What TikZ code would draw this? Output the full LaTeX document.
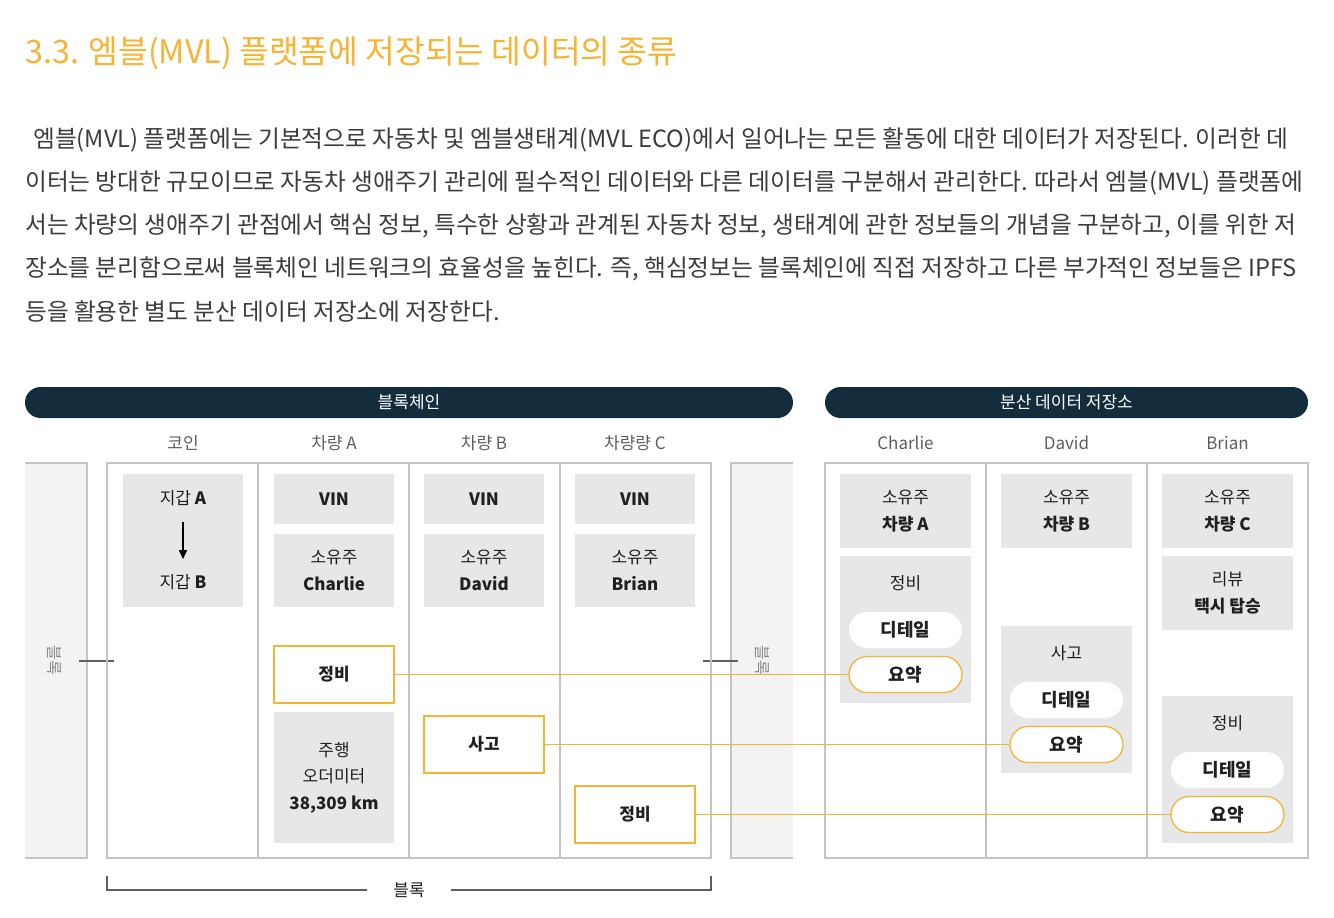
\documentclass[tikz,border=0pt]{standalone}
\usepackage{fontspec}
\setmainfont{Noto Sans CJK KR}
\usetikzlibrary{arrows.meta,positioning}
\definecolor{gold}{HTML}{F8B332}
\definecolor{navy}{HTML}{142D3C}
\definecolor{boxgrey}{HTML}{E6E7E8}
\definecolor{sidegrey}{HTML}{F3F3F3}
\definecolor{rulegrey}{HTML}{C4C4C4}
\definecolor{ink}{HTML}{231F20}
\definecolor{bodytxt}{HTML}{3C3C3C}
\definecolor{headtxt}{HTML}{5E5E5E}
\definecolor{sidetxt}{HTML}{8C8C8C}
\newcommand{\mvltitle}{\fontsize{32.3}{36}\selectfont}
\newcommand{\mvlbody}{\fontsize{23.7}{28}\selectfont}
\newcommand{\mvlhead}{\fontsize{17}{20}\selectfont}
\newcommand{\mvlbox}{\fontsize{17}{26.5}\selectfont}
\newcommand{\mvlpill}{\fontsize{18}{20}\selectfont\bfseries}
\newcommand{\mvlside}{\fontsize{16}{18}\selectfont}

\begin{document}
\begin{tikzpicture}[x=1pt,y=-1pt,
  every node/.style={inner sep=0pt,text=ink},
  gbox/.style={fill=boxgrey,minimum width=120pt,align=center,font=\mvlbox},
  rbox/.style={fill=boxgrey,minimum width=131pt,align=center,font=\mvlbox},
  ybox/.style={draw=gold,line width=1.3pt,fill=white,minimum width=120pt,minimum height=57pt,font=\mvlbox\bfseries},
  pill/.style={fill=white,rounded corners=18pt,minimum width=113pt,minimum height=36pt,font=\mvlpill},
  sumpill/.style={pill,draw=gold,line width=1.3pt},
  headbar/.style={fill=navy,rounded corners=15.5pt,minimum height=31pt,text=white,font=\mvlhead},
  colhead/.style={text=headtxt,font=\mvlhead},
  bodyline/.style={anchor=west,text=bodytxt,font=\mvlbody},
  link/.style={gold,line width=1.4pt},
  frameline/.style={rulegrey,line width=1.5pt}]
\useasboundingbox (0,0) rectangle (1334,918);
% title and text
\node[anchor=west,text=gold,font=\mvltitle] (title) at (25,53) {3.3. 엠블(MVL) 플랫폼에 저장되는 데이터의 종류};
\node[bodyline] (line1) at (33,140) {엠블(MVL) 플랫폼에는 기본적으로 자동차 및 엠블생태계(MVL ECO)에서 일어나는 모든 활동에 대한 데이터가 저장된다. 이러한 데};
\node[bodyline] (line2) at (25,183) {이터는 방대한 규모이므로 자동차 생애주기 관리에 필수적인 데이터와 다른 데이터를 구분해서 관리한다. 따라서 엠블(MVL) 플랫폼에};
\node[bodyline] (line3) at (25,226) {서는 차량의 생애주기 관점에서 핵심 정보, 특수한 상황과 관계된 자동차 정보, 생태계에 관한 정보들의 개념을 구분하고, 이를 위한 저};
\node[bodyline] (line4) at (25,269) {장소를 분리함으로써 블록체인 네트워크의 효율성을 높힌다. 즉, 핵심정보는 블록체인에 직접 저장하고 다른 부가적인 정보들은 IPFS};
\node[bodyline] (line5) at (25,312) {등을 활용한 별도 분산 데이터 저장소에 저장한다.};
% bars
\node[headbar,minimum width=768pt] (chainbar) at (409,402.5) {블록체인};
\node[headbar,minimum width=483pt] (storebar) at (1066.5,402.5) {분산 데이터 저장소};
% column heads
\node[colhead] (hcoin) at (183,443) {코인};
\node[colhead] (hcarA) at (334,443) {차량 A};
\node[colhead] (hcarB) at (484,443) {차량 B};
\node[colhead] (hcarC) at (635,443) {차량량 C};
\node[colhead] (hcharlie) at (905.5,443) {Charlie};
\node[colhead] (hdavid) at (1066.5,443) {David};
\node[colhead] (hbrian) at (1227.5,443) {Brian};
% neighbour blocks
\fill[sidegrey] (25,463) rectangle (87,858);
\fill[sidegrey] (731,463) rectangle (793,858);
\draw[frameline] (25,463) -- (87,463) -- (87,858) -- (25,858);
\draw[frameline] (793,463) -- (731,463) -- (731,858) -- (793,858);
\node[rotate=-90,text=sidetxt,font=\mvlside] (sideL) at (54,660) {블록};
\node[rotate=-90,text=sidetxt,font=\mvlside] (sideR) at (762,660) {블록};
\draw[headtxt,line width=1.2pt] (79,661) -- (114,661);
\draw[headtxt,line width=1.2pt] (703,661) -- (738,661);
% frames
\draw[frameline] (107,463) rectangle (711,858);
\draw[frameline] (258,463) -- (258,858);
\draw[frameline] (409,463) -- (409,858);
\draw[frameline] (560,463) -- (560,858);
\draw[frameline] (825,463) rectangle (1308,858);
\draw[frameline] (986,463) -- (986,858);
\draw[frameline] (1147,463) -- (1147,858);
% coin
\node[gbox,minimum height=133pt] (coin) at (183,540.5) {};
\node[font=\mvlbox] (walA) at (183,498) {지갑 \textbf{A}};
\node[font=\mvlbox] (walB) at (183,582) {지갑 \textbf{B}};
\draw[-{Triangle[length=9pt,width=8pt]},line width=1.2pt,shorten <=16pt,shorten >=15pt] (walA) -- (walB);
% vehicles
\node[gbox,minimum height=50pt,font=\mvlbox\bfseries] (vinA) at (334,499) {VIN};
\node[gbox,minimum height=50pt,font=\mvlbox\bfseries] (vinB) at (484,499) {VIN};
\node[gbox,minimum height=50pt,font=\mvlbox\bfseries] (vinC) at (635,499) {VIN};
\node[gbox,minimum height=73pt] (ownA) at (334,570.5) {소유주\\\textbf{Charlie}};
\node[gbox,minimum height=73pt] (ownB) at (484,570.5) {소유주\\\textbf{David}};
\node[gbox,minimum height=73pt] (ownC) at (635,570.5) {소유주\\\textbf{Brian}};
\node[ybox] (repA) at (334,674.5) {정비};
\node[gbox,minimum height=131pt] (odoA) at (334,777.5) {주행\\오더미터\\\textbf{38,309 km}};
\node[ybox] (accB) at (484,744.5) {사고};
\node[ybox] (repC) at (635,814.5) {정비};
% storage
\node[rbox,minimum height=74pt] (stA) at (905.5,511) {소유주\\\textbf{차량 A}};
\node[rbox,minimum height=74pt] (stB) at (1066.5,511) {소유주\\\textbf{차량 B}};
\node[rbox,minimum height=74pt] (stC) at (1227.5,511) {소유주\\\textbf{차량 C}};
\node[rbox,minimum height=74pt] (revC) at (1227.5,593) {리뷰\\\textbf{택시 탑승}};
\node[rbox,minimum height=147pt] (srepA) at (905.5,629.5) {};
\node[font=\mvlbox] (srepAt) at (905.5,583) {정비};
\node[pill] (detA) at (905.5,630) {디테일};
\node[sumpill] (sumA) at (905.5,674.5) {요약};
\node[rbox,minimum height=147pt] (saccB) at (1066.5,699.5) {};
\node[font=\mvlbox] (saccBt) at (1066.5,653) {사고};
\node[pill] (detB) at (1066.5,700) {디테일};
\node[sumpill] (sumB) at (1066.5,744.5) {요약};
\node[rbox,minimum height=147pt] (srepC) at (1227.5,769.5) {};
\node[font=\mvlbox] (srepCt) at (1227.5,723) {정비};
\node[pill] (detC) at (1227.5,770) {디테일};
\node[sumpill] (sumC) at (1227.5,814.5) {요약};
% links
\draw[link] (repA) -- (sumA);
\draw[link] (accB) -- (sumB);
\draw[link] (repC) -- (sumC);
% block bracket
\node[font=\mvlhead] (blk) at (409,890) {블록};
\draw[line width=1.2pt,headtxt] (107,876) |- ([xshift=-26pt]blk.west);
\draw[line width=1.2pt,headtxt] (711,876) |- ([xshift=26pt]blk.east);
\end{tikzpicture}
\end{document}
